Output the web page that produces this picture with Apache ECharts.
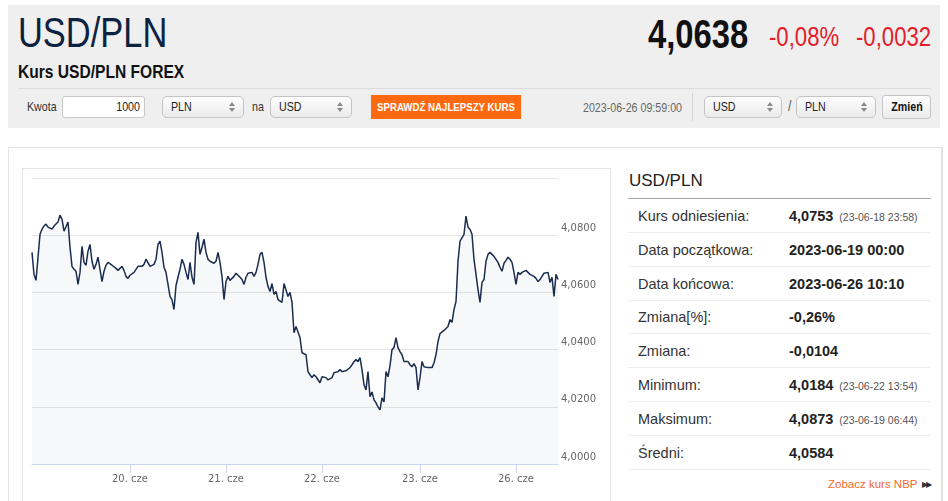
<!DOCTYPE html>
<html>
<head>
<meta charset="utf-8">
<script src="https://cdn.jsdelivr.net/npm/echarts@6/dist/echarts.min.js"></script>
<style>
  body { margin:0; width:948px; height:501px; overflow:hidden; background:#fff; font-family:"Liberation Sans", Arial, sans-serif; }
  .abs { position:absolute; white-space:nowrap; }
  /* waska czcionka naglowka (brak Arial Narrow -> sciskamy Liberation Sans) */
  .nar { transform:scaleX(0.82); transform-origin:0 50%; }
  .nt { display:inline-block; transform:scaleX(0.82); transform-origin:0 50%; }
  .ntc { position:absolute; left:50%; top:0; transform:translateX(-50%) scaleX(0.82); transform-origin:50% 50%; }
  .ntr { display:inline-block; transform:scaleX(0.82); transform-origin:100% 50%; }
  .sel { position:absolute; top:96px; height:22px; box-sizing:border-box; border:1px solid #c4c4c4; border-radius:5px;
         background:linear-gradient(#fdfdfd,#ebebeb); font-size:13px; line-height:20px; padding-left:8px; color:#222; }
  .sel::before { content:''; position:absolute; right:8px; top:5px; border-left:3px solid transparent; border-right:3px solid transparent; border-bottom:4px solid #8a8a8a; }
  .sel::after { content:''; position:absolute; right:8px; top:11px; border-left:3px solid transparent; border-right:3px solid transparent; border-top:4px solid #8a8a8a; }
  .row { position:absolute; left:628px; width:303px; height:34px; border-bottom:1px solid #ececec; box-sizing:border-box; }
  .lab { position:absolute; left:10px; top:9px; font-size:14.5px; color:#333; }
  .val { position:absolute; left:161px; top:9px; font-size:14.5px; font-weight:bold; color:#222; }
  .dt { font-size:10.5px; font-weight:normal; color:#555; margin-left:6px; }
</style>
</head>
<body>
<!-- naglowek -->
<div class="abs" style="left:8px;top:5px;width:932px;height:123px;background:#efefef;"></div>
<div class="abs nar" style="left:18px;top:12px;font-size:42px;line-height:42px;color:#0d2240;">USD/PLN</div>
<div class="abs nar" style="left:648px;top:14px;font-size:40px;line-height:40px;font-weight:bold;color:#111;">4,0638</div>
<div class="abs nar" style="left:769px;top:24px;font-size:27px;line-height:27px;color:#e3202a;">-0,08%</div>
<div class="abs nar" style="left:856px;top:24px;font-size:27px;line-height:27px;color:#e3202a;">-0,0032</div>
<div class="abs nar" style="left:18px;top:62px;font-size:19px;line-height:19px;font-weight:bold;color:#111;">Kurs USD/PLN FOREX</div>
<div class="abs" style="left:18px;top:88px;width:913px;height:1px;background:#dcdcdc;"></div>

<div class="abs nar" style="left:27px;top:99px;font-size:13px;color:#333;">Kwota</div>
<div class="abs" style="left:62px;top:96px;width:83px;height:22px;box-sizing:border-box;border:1px solid #c8c8c8;border-radius:3px;background:#fff;font-size:13px;line-height:20px;text-align:right;padding-right:4px;color:#222;"><span class="ntr">1000</span></div>
<div class="sel" style="left:162px;width:82px;"><span class="nt">PLN</span></div>
<div class="abs nar" style="left:252px;top:99px;font-size:13px;color:#333;">na</div>
<div class="sel" style="left:270px;width:82px;"><span class="nt">USD</span></div>
<div class="abs" style="left:371px;top:95px;width:150px;height:24px;background:#ff6a10;color:#fff;font-size:11.8px;font-weight:bold;line-height:24px;"><span class="ntc">SPRAWDŹ NAJLEPSZY KURS</span></div>
<div class="abs nar" style="left:583px;top:100px;font-size:13px;color:#666;">2023-06-26 09:59:00</div>
<div class="abs" style="left:692px;top:93px;width:1px;height:28px;background:#d5d5d5;"></div>
<div class="sel" style="left:704px;width:78px;"><span class="nt">USD</span></div>
<div class="abs nar" style="left:788px;top:97px;font-size:15px;color:#555;">/</div>
<div class="sel" style="left:796px;width:80px;"><span class="nt">PLN</span></div>
<div class="abs" style="left:882px;top:95px;width:49px;height:24px;box-sizing:border-box;border:1px solid #c4c4c4;border-radius:3px;background:linear-gradient(#fdfdfd,#ececec);font-size:13px;font-weight:bold;line-height:22px;color:#111;"><span class="ntc">Zmień</span></div>

<!-- panel -->
<div class="abs" style="left:8px;top:147px;width:932px;height:370px;border:1px solid #e3e3e3;border-right:2px solid #e0e0e0;background:#fff;"></div>
<div id="chart" class="abs" style="left:22px;top:168px;width:587px;height:340px;border:1px solid #e6e6e6;"></div>

<div class="abs" style="left:629px;top:171px;font-size:17px;color:#222;">USD/PLN</div>
<div class="abs" style="left:628px;top:198px;width:303px;height:1px;background:#a8a8a8;"></div>
<div class="row" style="top:199px;"><span class="lab">Kurs odniesienia:</span><span class="val">4,0753<span class="dt">(23-06-18 23:58)</span></span></div>
<div class="row" style="top:233px;"><span class="lab">Data początkowa:</span><span class="val">2023-06-19 00:00</span></div>
<div class="row" style="top:267px;"><span class="lab">Data końcowa:</span><span class="val">2023-06-26 10:10</span></div>
<div class="row" style="top:300px;"><span class="lab">Zmiana[%]:</span><span class="val">-0,26%</span></div>
<div class="row" style="top:334px;"><span class="lab">Zmiana:</span><span class="val">-0,0104</span></div>
<div class="row" style="top:368px;"><span class="lab">Minimum:</span><span class="val">4,0184<span class="dt">(23-06-22 13:54)</span></span></div>
<div class="row" style="top:402px;"><span class="lab">Maksimum:</span><span class="val">4,0873<span class="dt">(23-06-19 06:44)</span></span></div>
<div class="row" style="top:436px;"><span class="lab">Średni:</span><span class="val">4,0584</span></div>
<div class="abs" style="left:828px;top:478px;font-size:11.5px;color:#f26a2a;">Zobacz kurs NBP</div>
<div class="abs" style="left:922px;top:480px;font-size:8px;color:#333;letter-spacing:-2px;">▶▶</div>

<script>
// kurs USD/PLN, punkty co ~35 min (weekend pominiety)
var values = [
  4.0740,4.0663,4.0642,4.0638,4.0803,4.0821,4.0832,4.0839,4.0828,4.0832,
  4.0821,4.0832,4.0839,4.0846,4.0870,4.0856,4.0814,4.0810,4.0846,4.0758,
  4.0691,4.0681,4.0674,4.0628,4.0670,4.0761,4.0705,4.0695,4.0744,4.0768,
  4.0709,4.0681,4.0698,4.0723,4.0726,4.0638,4.0674,4.0695,4.0705,4.0702,
  4.0695,4.0691,4.0684,4.0677,4.0674,4.0691,4.0677,4.0656,4.0649,4.0660,
  4.0663,4.0670,4.0674,4.0691,4.0688,4.0691,4.0698,4.0716,4.0712,4.0691,
  4.0691,4.0698,4.0716,4.0768,4.0779,4.0740,4.0688,4.0670,4.0628,4.0586,
  4.0575,4.0540,4.0624,4.0653,4.0681,4.0716,4.0698,4.0670,4.0645,4.0705,
  4.0653,4.0628,4.0775,4.0810,4.0733,4.0758,4.0786,4.0740,4.0716,4.0709,
  4.0709,4.0702,4.0709,4.0740,4.0705,4.0656,4.0575,4.0638,4.0656,4.0642,
  4.0649,4.0656,4.0667,4.0663,4.0653,4.0645,4.0628,4.0653,4.0667,4.0670,
  4.0670,4.0656,4.0670,4.0698,4.0733,4.0740,4.0705,4.0653,4.0621,4.0603,
  4.0631,4.0593,4.0603,4.0575,4.0575,4.0565,4.0631,4.0628,4.0586,4.0600,
  4.0565,4.0459,4.0481,4.0477,4.0442,4.0389,4.0393,4.0382,4.0323,4.0312,
  4.0302,4.0312,4.0305,4.0302,4.0284,4.0305,4.0302,4.0302,4.0294,4.0291,
  4.0302,4.0319,4.0319,4.0323,4.0330,4.0323,4.0323,4.0326,4.0330,4.0337,
  4.0347,4.0358,4.0365,4.0358,4.0372,4.0330,4.0277,4.0259,4.0323,4.0235,
  4.0252,4.0224,4.0214,4.0200,4.0189,4.0231,4.0217,4.0323,4.0305,4.0344,
  4.0400,4.0407,4.0442,4.0407,4.0393,4.0382,4.0358,4.0361,4.0358,4.0347,
  4.0340,4.0351,4.0337,4.0259,4.0302,4.0358,4.0340,4.0340,4.0337,4.0333,
  4.0337,4.0354,4.0382,4.0428,4.0456,4.0459,4.0467,4.0470,4.0481,4.0505,
  4.0495,4.0540,4.0568,4.0709,4.0779,4.0775,4.0803,4.0867,4.0828,4.0821,
  4.0803,4.0716,4.0663,4.0610,4.0565,4.0635,4.0645,4.0709,4.0733,4.0740,
  4.0740,4.0726,4.0723,4.0705,4.0688,4.0674,4.0702,4.0712,4.0723,4.0716,
  4.0705,4.0670,4.0628,4.0670,4.0663,4.0670,4.0667,4.0677,4.0674,4.0663,
  4.0663,4.0656,4.0649,4.0638,4.0645,4.0656,4.0667,4.0667,4.0670,4.0635,
  4.0653,4.0586,4.0663,4.0645
];
// poczatki dni (indeks punktu) i ich etykiety
var tickIdx = [49, 97, 145, 194, 242];
var tickLabels = ["20. cze", "21. cze", "22. cze", "23. cze", "26. cze"];

var cats = [];
for (var i = 0; i < values.length; i++) {
  cats.push(String(i));
}

function isTick(index) {
  return tickIdx.indexOf(index) >= 0;
}

var myChart = echarts.init(document.getElementById("chart"));
var option = {
  animation: false,
  grid: { left: 9, top: 9, right: 52, bottom: 45 },
  xAxis: {
    type: "category",
    data: cats,
    boundaryGap: false,
    axisLine: { lineStyle: { color: "#ccd6eb", width: 1 } },
    axisTick: { show: true, length: 9, interval: isTick, lineStyle: { color: "#ccd6eb" } },
    axisLabel: {
      interval: isTick,
      margin: 10,
      color: "#666",
      fontSize: 10,
      fontFamily: "DejaVu Sans",
      formatter: function (v, idx) {
        var k = tickIdx.indexOf(idx);
        return k >= 0 ? tickLabels[k] : "";
      }
    },
    splitLine: { show: false }
  },
  yAxis: {
    type: "value",
    position: "right",
    min: 4.0,
    max: 4.1,
    interval: 0.02,
    axisLine: { show: false },
    axisTick: { show: false },
    splitLine: { lineStyle: { color: "#e6e6e6", width: 1 } },
    axisLabel: {
      showMaxLabel: false,
      margin: 3,
      color: "#666",
      fontSize: 10,
      fontFamily: "DejaVu Sans",
      verticalAlign: "bottom",
      padding: [0, 0, 2, 0],
      formatter: function (v) {
        return v.toFixed(4).replace(".", ",");
      }
    }
  },
  series: [
    {
      type: "line",
      data: values,
      symbol: "none",
      lineStyle: { color: "#1b2d4f", width: 1.5 },
      areaStyle: { color: "rgba(30,60,120,0.05)", origin: "start" }
    }
  ]
};
myChart.setOption(option);
</script>
</body>
</html>
